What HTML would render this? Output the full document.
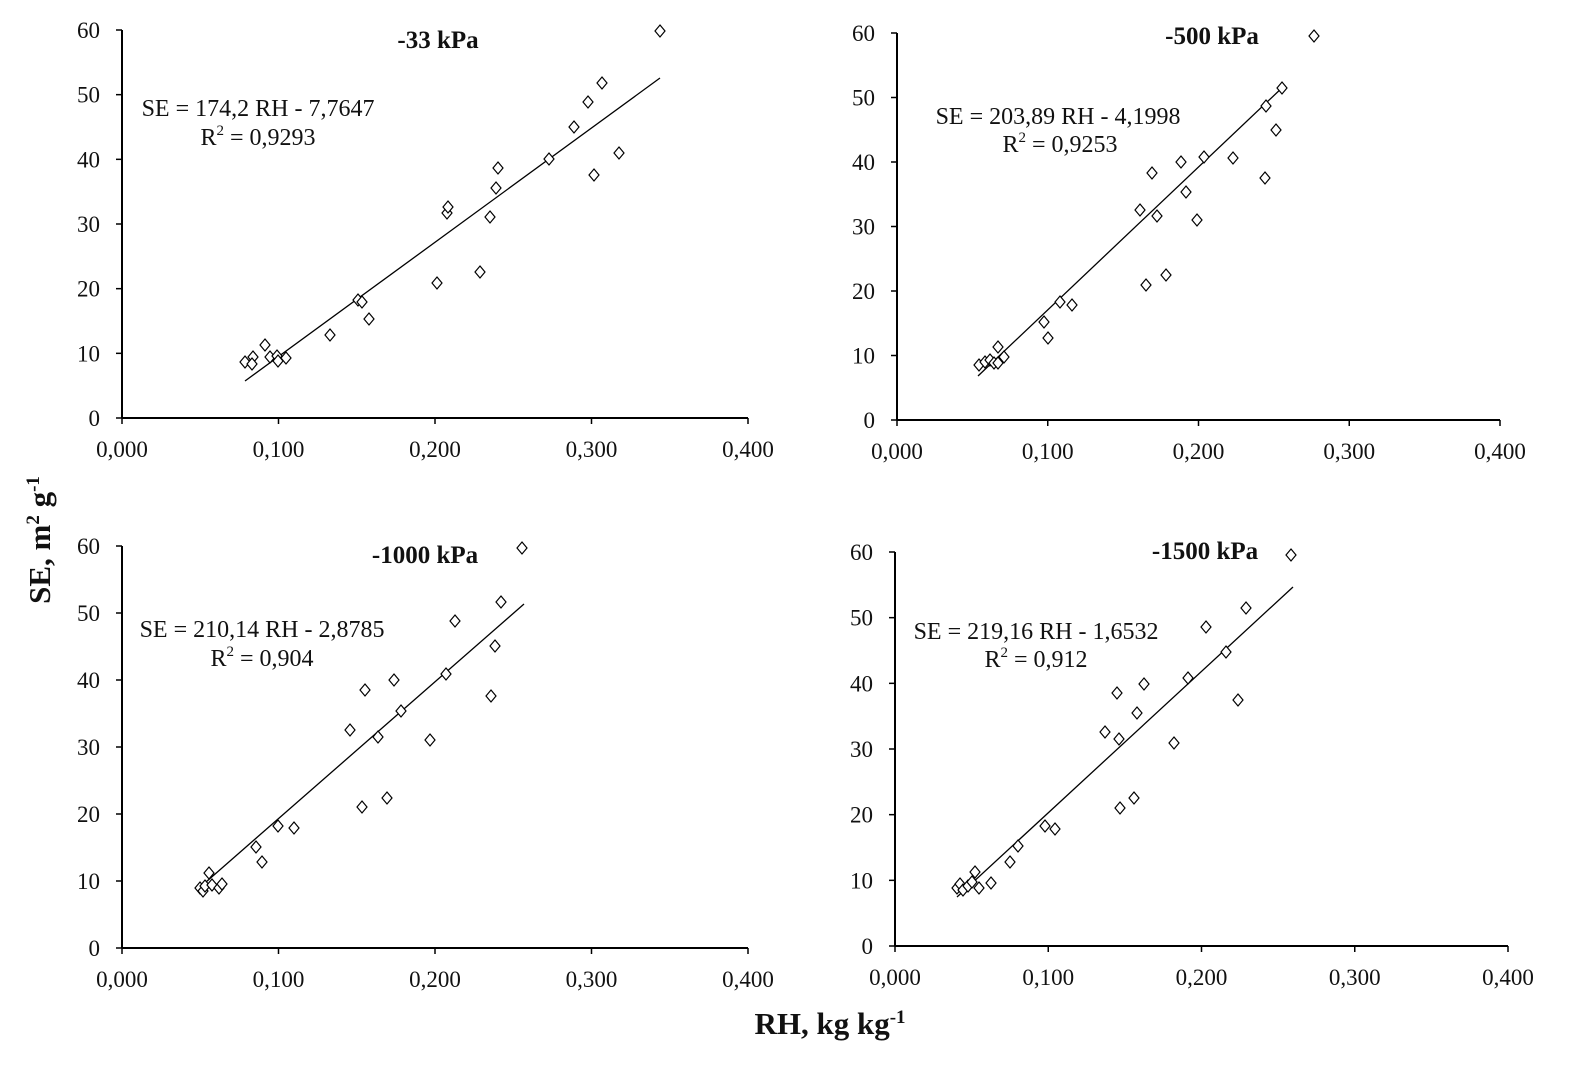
<!DOCTYPE html>
<html><head><meta charset="utf-8"><style>
body{margin:0;background:#fff}
svg{display:block}
text{font-family:"Liberation Serif",serif;fill:#111}
.t{font-size:23px}
.eq{font-size:24px}
.ti{font-size:25px;font-weight:bold}
.ax{font-size:31px;font-weight:bold}
</style></head><body>
<svg id="s" width="1587" height="1071" viewBox="0 0 1587 1071" xmlns="http://www.w3.org/2000/svg">
<text class="ax" transform="translate(50,540) rotate(-90)" text-anchor="middle">SE, m<tspan font-size="19" dy="-11">2</tspan><tspan dy="11"> g</tspan><tspan font-size="19" dy="-11">-1</tspan></text>
<text class="ax" x="830" y="1034" text-anchor="middle">RH, kg kg<tspan font-size="19" dy="-11">-1</tspan></text>
</svg>
<script>
var s=document.getElementById('s'),NS='http://www.w3.org/2000/svg';
function el(n,a,t){var e=document.createElementNS(NS,n);for(var k in a)e.setAttribute(k,a[k]);if(t!=null)e.textContent=t;s.appendChild(e);return e;}
var P=[
{x0:122,x1:748,y0:418,y60:30,title:['-33 kPa',438,48],eq:['SE = 174,2 RH - 7,7647',258,116],r2:['0,9293',258,145],line:[245,381,660,78],
pts:[[245,362],[253,357],[252,364],[265,345],[270,357],[277,356],[278,361],[286,358],[330,335],[358,300],[362,302],[369,319],[437,283],[447,213],[448,207],[480,272],[490,217],[496,188],[498,168],[549,159],[574,127],[588,102],[594,175],[602,83],[619,153],[660,31]]},
{x0:897,x1:1500,y0:420,y60:33,title:['-500 kPa',1212,44],eq:['SE = 203,89 RH - 4,1998',1058,124],r2:['0,9253',1060,152],line:[978,376,1285,85],
pts:[[979,365],[985,362],[990,360],[994,363],[998,347],[998,363],[1004,357],[1044,322],[1048,338],[1060,302],[1072,305],[1146,285],[1140,210],[1152,173],[1157,216],[1166,275],[1181,162],[1186,192],[1197,220],[1204,157],[1233,158],[1266,106],[1265,178],[1276,130],[1282,88],[1314,36]]},
{x0:122,x1:748,y0:948,y60:546,title:['-1000 kPa',425,563],eq:['SE = 210,14 RH - 2,8785',262,637],r2:['0,904',262,666],line:[198,889,524,604],
pts:[[200,888],[203,891],[205,886],[209,873],[212,885],[219,888],[222,884],[256,847],[262,862],[278,826],[294,828],[350,730],[365,690],[362,807],[378,737],[387,798],[394,680],[401,711],[430,740],[446,674],[455,621],[491,696],[495,646],[501,602],[522,548]]},
{x0:895,x1:1508,y0:946,y60:552,title:['-1500 kPa',1205,559],eq:['SE = 219,16 RH - 1,6532',1036,639],r2:['0,912',1036,667],line:[957,897,1293,587],
pts:[[957,888],[960,884],[963,890],[968,886],[972,882],[975,872],[979,888],[991,883],[1010,862],[1018,846],[1045,826],[1055,829],[1105,732],[1117,693],[1119,739],[1120,808],[1134,798],[1137,713],[1144,684],[1174,743],[1188,678],[1206,627],[1226,652],[1238,700],[1246,608],[1291,555]]}
];
P.forEach(function(p){
 el('line',{x1:p.x0,y1:p.y0,x2:p.x1,y2:p.y0,stroke:'#000','stroke-width':2});
 el('line',{x1:p.x0,y1:p.y0,x2:p.x0,y2:p.y60,stroke:'#000','stroke-width':2});
 for(var i=0;i<=6;i++){var y=p.y0+(p.y60-p.y0)*i/6;
  el('line',{x1:p.x0-6,y1:y,x2:p.x0,y2:y,stroke:'#000','stroke-width':1.5});
  el('text',{class:'t',x:p.x0-22,y:y+8,'text-anchor':'end'},String(i*10));}
 var xl=['0,000','0,100','0,200','0,300','0,400'];
 for(var i=0;i<=4;i++){var x=p.x0+(p.x1-p.x0)*i/4;
  el('line',{x1:x,y1:p.y0,x2:x,y2:p.y0+6,stroke:'#000','stroke-width':1.5});
  el('text',{class:'t',x:x,y:p.y0+39,'text-anchor':'middle'},xl[i]);}
 el('line',{x1:p.line[0],y1:p.line[1],x2:p.line[2],y2:p.line[3],stroke:'#000','stroke-width':1.3});
 p.pts.forEach(function(q){var x=q[0],y=q[1];
  el('polygon',{points:(x)+','+(y-6)+' '+(x+5)+','+y+' '+x+','+(y+6)+' '+(x-5)+','+y,fill:'#fff',stroke:'#000','stroke-width':1.2});});
 el('text',{class:'ti',x:p.title[1],y:p.title[2],'text-anchor':'middle'},p.title[0]);
 el('text',{class:'eq',x:p.eq[1],y:p.eq[2],'text-anchor':'middle'},p.eq[0]);
 var t=el('text',{class:'eq',x:p.r2[1],y:p.r2[2],'text-anchor':'middle'});
 t.innerHTML='R<tspan font-size="15" dy="-10">2</tspan><tspan dy="10"> = '+p.r2[0]+'</tspan>';
});
</script>
</body></html>
